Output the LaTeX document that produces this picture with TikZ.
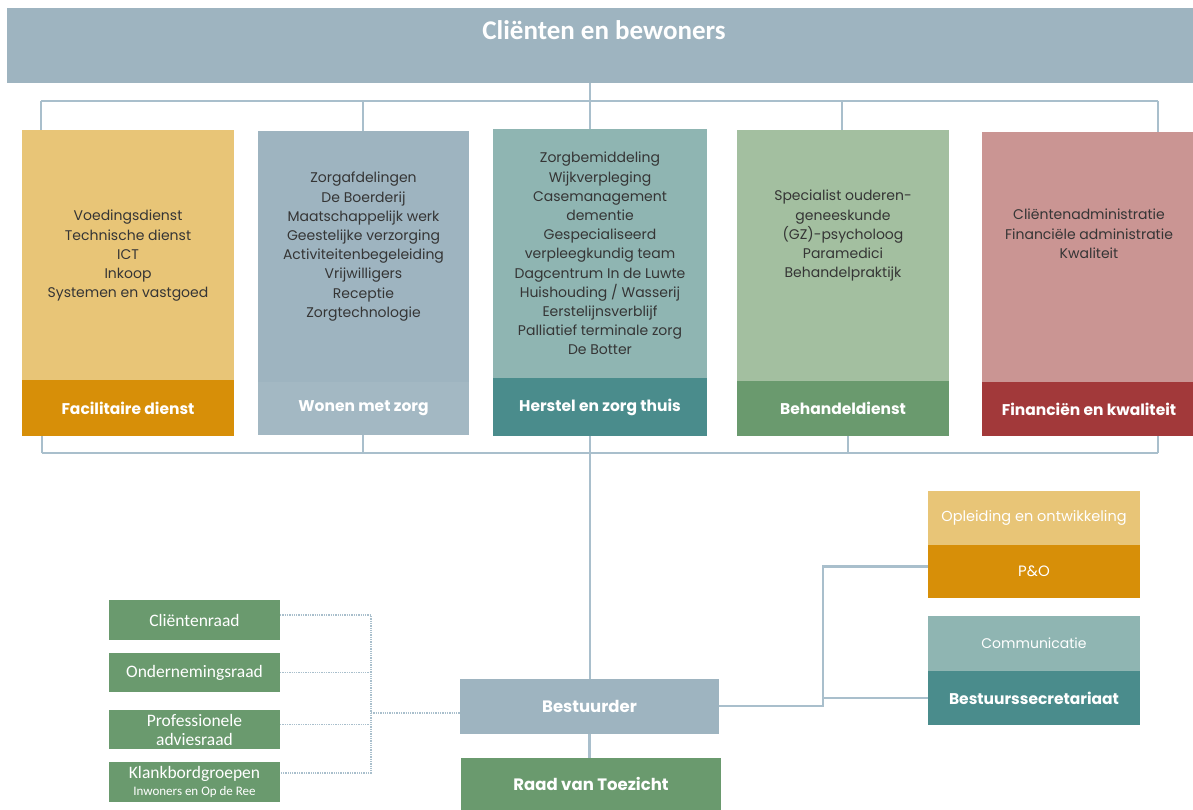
\documentclass[tikz,border=0pt]{standalone}
\usepackage{fontspec}
\setmainfont{Poppins}
\newfontfamily\calfont{Carlito}
\usepackage{xcolor}
\usetikzlibrary{positioning}

\definecolor{greyblue}{HTML}{9EB4C0}
\definecolor{facLight}{HTML}{E8C577}
\definecolor{facDark}{HTML}{D78F08}
\definecolor{herLight}{HTML}{8FB5B2}
\definecolor{herDark}{HTML}{4A8C8C}
\definecolor{behLight}{HTML}{A3BFA0}
\definecolor{behDark}{HTML}{6A9A6E}
\definecolor{finLight}{HTML}{CA9593}
\definecolor{finDark}{HTML}{A2393A}
\definecolor{lineBlue}{HTML}{A9BFCC}
\definecolor{textDark}{HTML}{353535}

\tikzset{
  deptbody/.style={rectangle, anchor=north west, inner sep=0pt, outer sep=0pt},
  depthead/.style={rectangle, inner sep=0pt, outer sep=0pt, text=white,
    font=\fontsize{15.5}{17}\selectfont\bfseries},
  listtext/.style={anchor=north, inner sep=0pt, align=center, text=textDark,
    font=\fontsize{14}{19.2}\selectfont},
  raadbox/.style={rectangle, anchor=north west, inner sep=0pt, outer sep=0pt,
    fill=behDark, text=white, align=center, minimum width=171pt,
    font=\calfont\fontsize{17.5}{19}\selectfont},
  bus/.style={draw=lineBlue, line width=2.2pt},
  advies/.style={draw=lineBlue, line width=1.3pt, densely dotted}
}

\begin{document}
\begin{tikzpicture}[x=1pt,y=-1pt]
\useasboundingbox (0,0) rectangle (1193,810);

% banner
\node[deptbody, fill=greyblue, minimum width=1190pt, minimum height=75pt] (banner) at (7,8) {};
\node[text=white, font=\calfont\fontsize{27}{29}\selectfont\bfseries] (title) at (604,30) {Cliënten en bewoners};

% afdelingen
\node[deptbody, fill=facLight, minimum width=212pt, minimum height=250pt] (facBody) at (22,130) {};
\node[depthead, fill=facDark, minimum width=212pt, minimum height=56pt, below=0pt of facBody] (facHead) {Facilitaire dienst};
\node[listtext] (facList) at (128,210) {Voedingsdienst\\Technische dienst\\ICT\\Inkoop\\Systemen en vastgoed};

\node[deptbody, fill=greyblue, minimum width=211pt, minimum height=251pt] (wonBody) at (258,131) {};
\node[depthead, fill=greyblue!95!white, minimum width=211pt, minimum height=53pt, below=0pt of wonBody] (wonHead) {Wonen met zorg};
\node[listtext] (wonList) at (363.5,172) {Zorgafdelingen\\De Boerderij\\Maatschappelijk werk\\Geestelijke verzorging\\Activiteitenbegeleiding\\Vrijwilligers\\Receptie\\Zorgtechnologie};

\node[deptbody, fill=herLight, minimum width=214pt, minimum height=249pt] (herBody) at (493,129) {};
\node[depthead, fill=herDark, minimum width=214pt, minimum height=58pt, below=0pt of herBody] (herHead) {Herstel en zorg thuis};
\node[listtext] (herList) at (600,152) {Zorgbemiddeling\\Wijkverpleging\\Casemanagement\\dementie\\Gespecialiseerd\\verpleegkundig team\\Dagcentrum In de Luwte\\Huishouding / Wasserij\\Eerstelijnsverblijf\\Palliatief terminale zorg\\De Botter};

\node[deptbody, fill=behLight, minimum width=212pt, minimum height=251pt] (behBody) at (737,130) {};
\node[depthead, fill=behDark, minimum width=212pt, minimum height=55pt, below=0pt of behBody] (behHead) {Behandeldienst};
\node[listtext] (behList) at (843,190) {Specialist ouderen-\\geneeskunde\\(GZ)-psycholoog\\Paramedici\\Behandelpraktijk};

\node[deptbody, fill=finLight, minimum width=214pt, minimum height=250pt] (finBody) at (982,132) {};
\node[depthead, fill=finDark, minimum width=214pt, minimum height=54pt, below=0pt of finBody] (finHead) {Financiën en kwaliteit};
\node[listtext] (finList) at (1089,209) {Cliëntenadministratie\\Financiële administratie\\Kwaliteit};

% bestuur
\node[deptbody, fill=greyblue, minimum width=259pt, minimum height=55pt, text=white,
  font=\fontsize{16.5}{18}\selectfont\bfseries] (bestuurder) at (460,679) {Bestuurder};
\node[deptbody, fill=behDark, minimum width=260pt, minimum height=52pt, text=white,
  font=\fontsize{16.5}{18}\selectfont\bfseries] (raad) at (461,758) {Raad van Toezicht};

% staf
\node[deptbody, fill=facLight, minimum width=212pt, minimum height=54pt, text=white,
  font=\fontsize{14.5}{16}\selectfont] (opleiding) at (928,491) {Opleiding en ontwikkeling};
\node[depthead, fill=facDark, minimum width=212pt, minimum height=53pt, below=0pt of opleiding,
  font=\fontsize{15}{16}\selectfont] (pno) {P\&O};
\node[deptbody, fill=herLight, minimum width=212pt, minimum height=55pt, text=white,
  font=\fontsize{14}{16}\selectfont] (comm) at (928,616) {Communicatie};
\node[depthead, fill=herDark, minimum width=212pt, minimum height=54pt, below=0pt of comm,
  font=\fontsize{15.5}{17}\selectfont\bfseries] (secr) {Bestuurssecretariaat};

% raden
\node[raadbox, minimum height=40pt] (clr) at (109,600) {Cliëntenraad};
\node[raadbox, minimum height=39pt] (ond) at (109,653) {Ondernemingsraad};
\node[raadbox, minimum height=39pt, font=\calfont\fontsize{17.5}{19}\selectfont] (prof) at (109,710) {Professionele\\adviesraad};
\node[raadbox, minimum height=40pt] (klank) at (109,762) {Klankbordgroepen\\[-2pt]{\fontsize{13}{14}\selectfont Inwoners en Op de Ree}};

% lijnen boven
\coordinate (tb1) at (41,101);
\coordinate (tb2) at (363,101);
\coordinate (tb3) at (590,101);
\coordinate (tb4) at (842,101);
\coordinate (tb5) at (1158,101);
\draw[bus] (tb3 |- banner.south) -- (tb3);
\draw[bus] (tb1) -- (tb5);
\foreach \c/\n in {tb1/facBody, tb2/wonBody, tb3/herBody, tb4/behBody, tb5/finBody}
  \draw[bus] (\c) -- (\c |- \n.north);

% lijnen onder
\coordinate (bb1) at (42,453);
\coordinate (bb2) at (363,453);
\coordinate (bb3) at (590,453);
\coordinate (bb4) at (848,453);
\coordinate (bb5) at (1158,453);
\draw[bus] (bb1) -- (bb5);
\foreach \c/\n in {bb1/facHead, bb2/wonHead, bb3/herHead, bb4/behHead, bb5/finHead}
  \draw[bus] (\c) -- (\c |- \n.south);
\draw[bus] (bb3) -- (bb3 |- bestuurder.north);
\draw[bus] (bestuurder.south) -- (bestuurder.south |- raad.north);

% staf lijnen
\coordinate (rHinge) at (823,706);
\draw[bus] (bestuurder.east |- rHinge) -- (rHinge) |- ([yshift=5pt]pno.west);
\draw[bus] (rHinge |- secr.west) -- (secr.west);

% raden lijnen
\coordinate (lHinge) at (371,713);
\draw[advies] ([yshift=5pt]clr.east) -- ([yshift=5pt]lHinge |- clr.east) -- ([yshift=9pt]lHinge |- klank.east) -- ([yshift=9pt]klank.east);
\draw[advies] (ond.east) -- (lHinge |- ond.east);
\draw[advies] ([yshift=5pt]prof.east) -- ([yshift=5pt]lHinge |- prof.east);
\draw[advies] (lHinge) -- (bestuurder.west |- lHinge);
\end{tikzpicture}
\end{document}
